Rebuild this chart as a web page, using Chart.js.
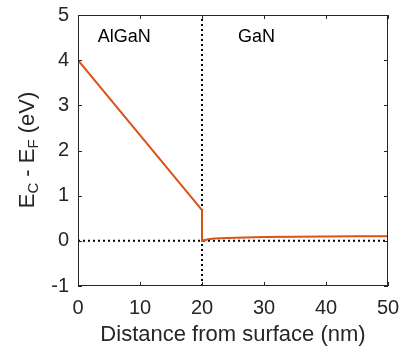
<!DOCTYPE html>
<html>
<head>
<meta charset="utf-8">
<script src="https://cdn.jsdelivr.net/npm/chart.js@4"></script>
<style>
  html, body { margin: 0; padding: 0; background: #fff; }
  #wrap { width: 399px; height: 353px; }
</style>
</head>
<body>
<div id="wrap"><canvas id="myChart" width="399" height="353"></canvas></div>
<script>
// band edge, E_C - E_F (eV) vs depth (nm)
var distNm = [0, 20, 20, 20.5, 21, 22, 24, 27, 30, 35, 40, 45, 50];
var bandEv = [4, 0.68, 0, 0.02, 0.035, 0.05, 0.065, 0.075, 0.085, 0.092, 0.097, 0.1, 0.1];
var xTicks = [0, 10, 20, 30, 40, 50];
var yTicks = [-1, 0, 1, 2, 3, 4, 5];
var layerNames = ["AlGaN", "GaN"];
var layerLabelX = [3.2, 25.8];
var interfaceX = 20;

var font = "Liberation Sans, Arial, Helvetica, sans-serif";

function pts(xs, ys) {
  var out = [];
  for (var i = 0; i < xs.length; i++) out.push({x: xs[i], y: ys[i]});
  return out;
}

var boxPlugin = {
  id: "box",
  afterDraw: function(chart) {
    var ctx = chart.ctx, a = chart.chartArea;
    var xs = chart.scales.x, ys = chart.scales.y;
    ctx.save();
    ctx.strokeStyle = "#262626";
    ctx.lineWidth = 1;
    ctx.strokeRect(a.left + 0.5, a.top + 0.5, a.right - a.left - 1, a.bottom - a.top - 1);
    ctx.beginPath();
    xTicks.forEach(function(v) {
      var px = Math.round(xs.getPixelForValue(v)) + 0.5;
      ctx.moveTo(px, a.bottom); ctx.lineTo(px, a.bottom - 4);
      ctx.moveTo(px, a.top); ctx.lineTo(px, a.top + 4);
    });
    yTicks.forEach(function(v) {
      var py = Math.round(ys.getPixelForValue(v)) + 0.5;
      ctx.moveTo(a.left, py); ctx.lineTo(a.left + 4, py);
      ctx.moveTo(a.right, py); ctx.lineTo(a.right - 4, py);
    });
    ctx.stroke();

    // layer names
    ctx.fillStyle = "#000";
    ctx.font = "18px " + font;
    ctx.textBaseline = "alphabetic";
    ctx.textAlign = "left";
    layerNames.forEach(function(n, i) {
      ctx.fillText(n, xs.getPixelForValue(layerLabelX[i]), ys.getPixelForValue(4.4));
    });

    // y title with subscripts
    ctx.fillStyle = "#262626";
    ctx.translate(34, 150);
    ctx.rotate(-Math.PI / 2);
    var parts = [["E", 0], ["C", 1], [" - E", 0], ["F", 1], [" (eV)", 0]];
    var big = "22px " + font, small = "15px " + font;
    var w = 0;
    parts.forEach(function(p) { ctx.font = p[1] ? small : big; w += ctx.measureText(p[0]).width; });
    var x = -w / 2;
    parts.forEach(function(p) {
      ctx.font = p[1] ? small : big;
      ctx.fillText(p[0], x, p[1] ? 4 : 0);
      x += ctx.measureText(p[0]).width;
    });
    ctx.restore();
  }
};

new Chart("myChart", {
  type: "scatter",
  data: {
    datasets: [
      {
        data: pts(distNm, bandEv),
        showLine: true,
        borderColor: "#D95319",
        borderWidth: 2,
        pointRadius: 0,
        tension: 0
      },
      {
        data: [{x: interfaceX, y: -1}, {x: interfaceX, y: 5}],
        showLine: true,
        borderColor: "#000",
        borderWidth: 2,
        borderDash: [2, 3],
        pointRadius: 0
      },
      {
        data: [{x: 0, y: 0}, {x: 50, y: 0}],
        showLine: true,
        borderColor: "#000",
        borderWidth: 2,
        borderDash: [2, 3],
        pointRadius: 0
      }
    ]
  },
  options: {
    responsive: false,
    animation: false,
    layout: {padding: 0},
    plugins: {legend: {display: false}, tooltip: {enabled: false}},
    scales: {
      x: {
        type: "linear", min: 0, max: 50,
        afterBuildTicks: function(s) { s.ticks = xTicks.map(function(v) { return {value: v}; }); },
        afterFit: function(s) { s.height = 67; s.paddingRight = 11; s.paddingLeft = 0; },
        grid: {display: false, drawTicks: false},
        border: {display: false},
        ticks: {color: "#262626", font: {family: font, size: 20}, padding: 10, maxRotation: 0},
        title: {display: true, text: "Distance from surface (nm)", color: "#262626",
                font: {family: font, size: 22}, padding: {top: 0, bottom: 5}}
      },
      y: {
        type: "linear", min: -1, max: 5,
        afterBuildTicks: function(s) { s.ticks = yTicks.map(function(v) { return {value: v}; }); },
        afterFit: function(s) { s.width = 78; s.paddingTop = 15; s.paddingBottom = 0; },
        grid: {display: false, drawTicks: false},
        border: {display: false},
        ticks: {color: "#262626", font: {family: font, size: 20}, padding: 9}
      }
    }
  },
  plugins: [boxPlugin]
});
</script>
</body>
</html>
